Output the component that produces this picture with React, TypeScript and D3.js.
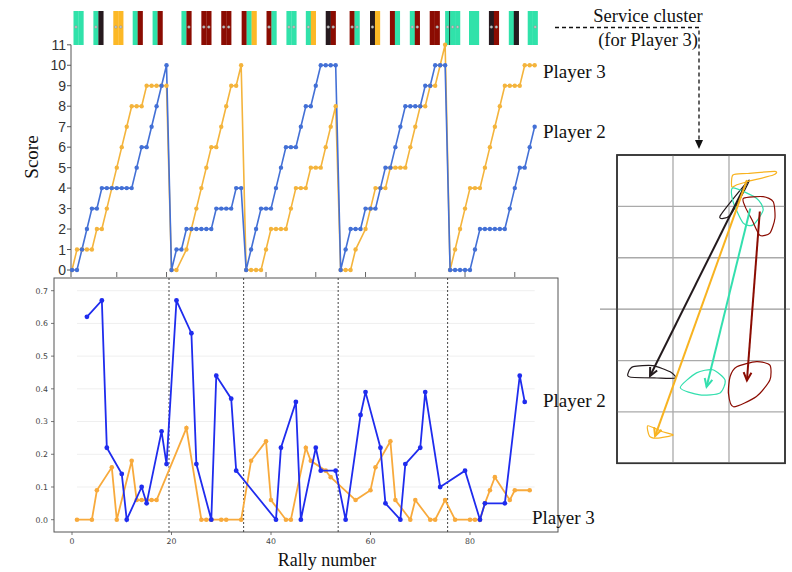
import React from "react";
import * as d3 from "d3";

// ---------- DATA ----------
// Score progression per rally (top chart)
const p2Score: (number | null)[] = [
  0, 0, 1, 2, 3, 3, 4, 4, 4, 4, 4, 4, 4, 5, 6, 6, 7, 8, 9, 10,
  0, 1, 1, 2, 2, 2, 2, 2, 2, 3, 3, 3, 3, 4, 4,
  0, 1, 2, 3, 3, 3, 4, 5, 6, 6, 6, 7, 8, 8, 9, 10, 10, 10, 10,
  0, 1, 2, 2, 2, 3, 3, 3, 4, 5, 5, 6, 7, 8, 8, 8, 8, 9, 9, 10, 10, 10,
  0, 0, 0, 0, 0, 1, 2, 2, 2, 2, 2, 2, 3, 4, 5, 5, 6, 7,
];
const p3Score: (number | null)[] = [
  0, 1, 1, 1, 1, 2, 2, 3, 4, 5, 6, 7, 8, 8, 8, 9, 9, 9, 9, 9,
  0, 0, null, 1, 2, 3, 4, 5, 6, 6, 7, 8, 9, 9, 10,
  0, 0, 0, 0, 1, 2, 2, 2, 2, 3, 4, 4, 4, 5, 5, 5, 6, 7, 8,
  0, 0, 0, 1, null, 2, 3, 4, 4, 4, 5, 5, 5, 5, 6, 7, 8, 8, 9, 9, 10, 11,
  0, 1, 2, 3, 4, 4, 4, 5, 6, 7, 8, 9, 9, 9, 9, 10, 10, 10,
];
const scoreTicks = d3.range(0, 12);
const topAxisTicks = [9, 19, 29, 39, 49, 59, 69, 79, 89];

// Bottom chart values
const p2Rally = [3, 6, 7, 10, 11, 14, 15, 18, 19, 21, 24, 25, 28, 29, 32, 33, 41, 42, 45, 46, 49, 50, 53, 55, 58, 59, 62, 63, 66, 67, 70, 71, 74, 79, 82, 83, 87, 90, 91];
const p2Value = [0.62, 0.67, 0.22, 0.14, 0.0, 0.1, 0.05, 0.27, 0.17, 0.67, 0.57, 0.17, 0.0, 0.44, 0.37, 0.15, 0.0, 0.22, 0.36, 0.0, 0.22, 0.15, 0.15, 0.0, 0.32, 0.39, 0.22, 0.05, 0.0, 0.17, 0.22, 0.39, 0.1, 0.15, 0.0, 0.05, 0.05, 0.44, 0.36];
const p3Rally = [1, 4, 5, 8, 9, 12, 13, 14, 15, 16, 17, 23, 26, 27, 28, 30, 31, 34, 36, 39, 40, 43, 44, 47, 48, 51, 52, 57, 60, 61, 64, 65, 68, 69, 72, 73, 75, 77, 80, 81, 82, 83, 84, 85, 88, 89, 92];
const p3Value = [0, 0, 0.09, 0.16, 0, 0.18, 0.06, 0.06, 0.06, 0.06, 0.06, 0.28, 0, 0, 0, 0, 0, 0, 0.18, 0.24, 0.06, 0, 0, 0.22, 0.18, 0.15, 0.13, 0.06, 0.09, 0.16, 0.24, 0.06, 0, 0.06, 0, 0, 0.06, 0, 0, 0, 0, 0.05, 0.09, 0.13, 0.06, 0.09, 0.09];
const gameBreaks = [19.5, 34.5, 53.5, 75.5];
const bottomYTicks = [0, 0.1, 0.2, 0.3, 0.4, 0.5, 0.6, 0.7];
const bottomXTicks = [0, 20, 40, 60, 80];

// Service cluster strip
const serviceStart = [0.3, 4.3, 8.3, 12.2, 16.2, 22.0, 26.0, 30.0, 34.1, 39.1, 43.1, 47.0, 51.0, 55.8, 59.9, 63.9, 67.9, 71.9, 75.0, 79.8, 83.8, 87.8, 91.6];
const serviceColors = ["TT", "TB", "OO", "TR", "TR", "TR", "RR", "RR", "RTO", "RT", "TT", "TO", "BR", "RT", "BO", "RT", "TR", "RR", "TkTT", "TT", "BR", "TB", "TT"];
const serviceDots = ["1", "1", "11", "", "", "01", "11", "11", "", "1", "11", "1", "11", "11", "1", "", "11", "01", "111", "", "11", "", "01"];

// Court diagram (court units: 3 columns x 6 rows)
const clusterNames = ["black", "orange", "teal", "red"];
const arrowFrom: [number, number][] = [[2.32, 0.52], [2.32, 0.49], [2.38, 1.04], [2.55, 1.1]];
const arrowTo: [number, number][] = [[0.59, 4.3], [0.68, 5.47], [1.6, 4.51], [2.32, 4.39]];
const startShapes: [number, number][][] = [
  [[1.84, 1.19], [2.03, 1.16], [2.36, 0.49]],
  [[2.05, 0.62], [2.07, 0.39], [2.32, 0.36], [2.82, 0.32], [2.79, 0.39], [2.32, 0.52], [2.14, 0.58]],
  [[2.07, 0.64], [2.49, 0.84], [2.61, 1.07], [2.43, 1.36], [2.25, 1.32], [2.07, 0.9]],
  [[2.26, 0.84], [2.61, 0.81], [2.79, 0.91], [2.82, 1.23], [2.73, 1.52], [2.55, 1.56], [2.41, 1.26], [2.29, 1.01]],
];
const endShapes: [number, number][][] = [
  [[0.2, 4.24], [0.29, 4.12], [0.64, 4.1], [0.95, 4.22], [1.04, 4.34], [0.71, 4.34], [0.23, 4.32]],
  [[0.55, 5.27], [0.8, 5.38], [1.0, 5.45], [0.71, 5.51], [0.58, 5.47]],
  [[1.13, 4.53], [1.42, 4.24], [1.71, 4.18], [1.93, 4.38], [1.84, 4.63], [1.48, 4.67]],
  [[2.02, 4.31], [2.14, 4.12], [2.49, 4.02], [2.73, 4.09], [2.73, 4.38], [2.49, 4.7], [2.08, 4.9], [1.99, 4.64]],
];

// ---------- STYLE ----------
const segColor: Record<string, string> = { T: "#30e2aa", B: "#261a1f", O: "#fcb826", R: "#8b0c02" };
const clusterColor: Record<string, string> = { black: "#231a1d", orange: "#f8b320", teal: "#33dfae", red: "#8b0c02" };
const topBlue = "#4370d6";
const topOrange = "#f4b43c";
const botBlue = "#1f2cee";
const botOrange = "#f8aa3c";
const serif = "'Liberation Serif', 'Times New Roman', serif";
const sans = "'Liberation Sans', Arial, sans-serif";

export default function App() {
  const W = 792, H = 572;
  const x = d3.scaleLinear().domain([0, 100]).range([72, 569.5]);
  const yScore = d3.scaleLinear().domain([0, 11]).range([270, 44.8]);
  const yBot = d3.scaleLinear().domain([0, 0.7]).range([519.7, 290.7]);
  const cx = d3.scaleLinear().domain([0, 3]).range([617, 785]);
  const cy = d3.scaleLinear().domain([0, 6]).range([155, 463.3]);

  const scorePts = (arr: (number | null)[]) =>
    arr.map((v, i) => ({ r: i, v })).filter((d) => d.v !== null) as { r: number; v: number }[];
  const p2Pts = scorePts(p2Score);
  const p3Pts = scorePts(p3Score);
  const scoreLine = d3.line<{ r: number; v: number }>().x((d) => x(d.r)).y((d) => yScore(d.v));

  const p2B = p2Rally.map((r, i) => ({ r, v: p2Value[i] }));
  const p3B = p3Rally.map((r, i) => ({ r, v: p3Value[i] }));
  const botLine = d3.line<{ r: number; v: number }>().x((d) => x(d.r)).y((d) => yBot(d.v));

  const blob = d3
    .line<[number, number]>()
    .x((d) => cx(d[0]))
    .y((d) => cy(d[1]))
    .curve(d3.curveCardinalClosed.tension(0.3));

  // service strip
  const unit = x(1) - x(0);
  const barTop = 11, barBot = 45;
  const rects: any[] = [];
  const overlays: any[] = [];
  serviceStart.forEach((s, bi) => {
    let off = 0;
    let segIdx = 0;
    serviceColors[bi].split("").forEach((c, ci) => {
      if (c === "k") {
        overlays.push(
          <line key={`k${bi}-${ci}`} x1={x(s + off) - 0.5} x2={x(s + off) - 0.5} y1={barTop} y2={barBot} stroke="#1d3a30" strokeWidth={1} />
        );
        return;
      }
      const x0 = x(s + off);
      rects.push(<rect key={`b${bi}-${ci}`} x={x0} y={barTop} width={unit + 0.2} height={barBot - barTop} fill={segColor[c]} />);
      if (serviceDots[bi][segIdx] === "1") {
        overlays.push(
          <circle key={`d${bi}-${ci}`} cx={x0 + unit / 2} cy={27} r={1.3} fill="#c8c8c8" stroke="#8f8f8f" strokeWidth={0.5} />
        );
      }
      off += 1;
      segIdx += 1;
    });
  });

  const arrowHead = (from: [number, number], to: [number, number]) => {
    const x1 = cx(from[0]), y1 = cy(from[1]), x2 = cx(to[0]), y2 = cy(to[1]);
    const a = Math.atan2(y2 - y1, x2 - x1);
    const L = 9, sp = 0.45;
    const p1 = [x2 - L * Math.cos(a - sp), y2 - L * Math.sin(a - sp)];
    const p2 = [x2 - L * Math.cos(a + sp), y2 - L * Math.sin(a + sp)];
    return `M${p1[0]},${p1[1]}L${x2},${y2}L${p2[0]},${p2[1]}`;
  };

  return (
    <svg width={W} height={H} style={{ position: "absolute", left: 0, top: 0, background: "#fff" }}>
      <rect width={W} height={H} fill="#fff" />
      {/* Service strip */}
      {rects}
      {overlays}

      {/* Top chart axes */}
      <line x1={71} x2={71} y1={yScore(11)} y2={277} stroke="#555" strokeWidth={1} />
      {scoreTicks.map((t) => (
        <g key={`st${t}`}>
          <line x1={67} x2={71} y1={yScore(t)} y2={yScore(t)} stroke="#555" strokeWidth={1} />
          <text x={66} y={yScore(t) + 5} fontFamily={sans} fontSize={14} fill="#333" textAnchor="end">
            {t}
          </text>
        </g>
      ))}
      {topAxisTicks.map((t) => (
        <line key={`tt${t}`} x1={x(t)} x2={x(t)} y1={272} y2={277} stroke="#666" strokeWidth={1} />
      ))}
      <text transform="translate(38,157) rotate(-90)" fontFamily={serif} fontSize={19} textAnchor="middle" fill="#111">
        Score
      </text>

      {/* Score lines */}
      <path d={scoreLine(p3Pts) || ""} fill="none" stroke={topOrange} strokeWidth={1.6} />
      <path d={scoreLine(p2Pts) || ""} fill="none" stroke={topBlue} strokeWidth={1.6} />
      {p3Pts.map((d) => (
        <circle key={`o${d.r}`} cx={x(d.r)} cy={yScore(d.v)} r={2.2} fill={topOrange} />
      ))}
      {p2Pts.map((d) => (
        <circle key={`b${d.r}`} cx={x(d.r)} cy={yScore(d.v)} r={2.2} fill={topBlue} />
      ))}
      <text x={543} y={78} fontFamily={serif} fontSize={19} fill="#111">Player 3</text>
      <text x={543} y={138} fontFamily={serif} fontSize={19} fill="#111">Player 2</text>

      {/* Bottom chart */}
      {bottomYTicks.map((t) => (
        <line key={`g${t}`} x1={x(1)} x2={x(93)} y1={yBot(t)} y2={yBot(t)} stroke="#efefef" strokeWidth={1} />
      ))}
      <rect x={54} y={278} width={504} height={254} fill="none" stroke="#555" strokeWidth={1} />
      {bottomYTicks.map((t) => (
        <g key={`yt${t}`}>
          <line x1={51} x2={54} y1={yBot(t)} y2={yBot(t)} stroke="#555" strokeWidth={0.8} />
          <text x={48} y={yBot(t) + 2.8} fontFamily="'DejaVu Sans', sans-serif" fontSize={7.8} fill="#444" textAnchor="end">
            {t.toFixed(1)}
          </text>
        </g>
      ))}
      {bottomXTicks.map((t) => (
        <g key={`xt${t}`}>
          <line x1={x(t)} x2={x(t)} y1={532} y2={535} stroke="#555" strokeWidth={0.8} />
          <text x={x(t)} y={544} fontFamily="'DejaVu Sans', sans-serif" fontSize={7.8} fill="#444" textAnchor="middle">
            {t}
          </text>
        </g>
      ))}
      {gameBreaks.map((g) => (
        <line key={`gb${g}`} x1={x(g)} x2={x(g)} y1={278} y2={532} stroke="#444" strokeWidth={1} strokeDasharray="2,2" />
      ))}
      <path d={botLine(p3B) || ""} fill="none" stroke={botOrange} strokeWidth={1.8} />
      {p3B.map((d) => (
        <circle key={`bo${d.r}`} cx={x(d.r)} cy={yBot(d.v)} r={2.3} fill={botOrange} />
      ))}
      <path d={botLine(p2B) || ""} fill="none" stroke={botBlue} strokeWidth={1.8} />
      {p2B.map((d) => (
        <circle key={`bb${d.r}`} cx={x(d.r)} cy={yBot(d.v)} r={2.4} fill={botBlue} />
      ))}
      <text x={543} y={407} fontFamily={serif} fontSize={19} fill="#111">Player 2</text>
      <text x={532} y={524} fontFamily={serif} fontSize={19} fill="#111">Player 3</text>
      <text x={327} y={566} fontFamily={serif} fontSize={18} fill="#111" textAnchor="middle">Rally number</text>

      {/* Service cluster annotation */}
      <text x={648} y={22} fontFamily={serif} fontSize={18.5} fill="#111" textAnchor="middle">Service cluster</text>
      <text x={648} y={46} fontFamily={serif} fontSize={18.5} fill="#111" textAnchor="middle">(for Player 3)</text>
      <path d="M555,27.5 L699,27.5 L699,141" fill="none" stroke="#111" strokeWidth={1.3} strokeDasharray="4,3" />
      <path d="M695,140 L703,140 L699,149 Z" fill="#111" />

      {/* Court */}
      <rect x={cx(0)} y={cy(0)} width={cx(3) - cx(0)} height={cy(6) - cy(0)} fill="#fff" stroke="#333" strokeWidth={1.5} />
      {[1, 2].map((c) => (
        <line key={`cv${c}`} x1={cx(c)} x2={cx(c)} y1={cy(0)} y2={cy(6)} stroke="#aaa" strokeWidth={1.3} />
      ))}
      {[1, 2, 4, 5].map((r) => (
        <line key={`ch${r}`} x1={cx(0)} x2={cx(3)} y1={cy(r)} y2={cy(r)} stroke="#aaa" strokeWidth={1.3} />
      ))}
      <line x1={600} x2={790} y1={cy(3)} y2={cy(3)} stroke="#999" strokeWidth={1.3} />
      <rect x={cx(0)} y={cy(0)} width={cx(3) - cx(0)} height={cy(6) - cy(0)} fill="none" stroke="#333" strokeWidth={1.5} />
      {clusterNames.map((n, i) => (
        <g key={`cl${n}`}>
          <path d={blob(startShapes[i]) || ""} fill="none" stroke={clusterColor[n]} strokeWidth={1.2} />
          <path d={blob(endShapes[i]) || ""} fill="none" stroke={clusterColor[n]} strokeWidth={1.2} />
        </g>
      ))}
      {clusterNames.map((n, i) => (
        <g key={`ar${n}`}>
          <line x1={cx(arrowFrom[i][0])} y1={cy(arrowFrom[i][1])} x2={cx(arrowTo[i][0])} y2={cy(arrowTo[i][1])} stroke={clusterColor[n]} strokeWidth={2} />
          <path d={arrowHead(arrowFrom[i], arrowTo[i])} fill="none" stroke={clusterColor[n]} strokeWidth={2} />
        </g>
      ))}
    </svg>
  );
}
